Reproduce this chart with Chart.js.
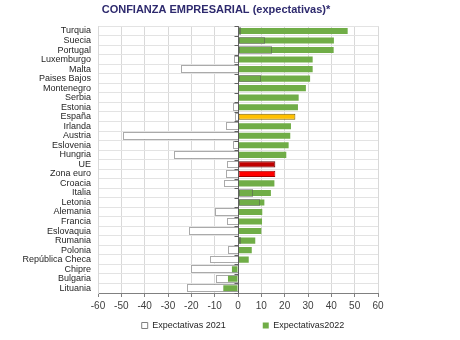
<!DOCTYPE html>
<html>
<head>
<meta charset="utf-8">
<script src="https://cdn.jsdelivr.net/npm/chart.js@4.4.1/dist/chart.umd.min.js"></script>
<style>
html,body{margin:0;padding:0;background:#fff;}
#wrap{width:460px;height:340px;}
</style>
</head>
<body>
<div id="wrap"><canvas id="c" width="460" height="340"></canvas></div>
<script>
const categories = ["Turquia","Suecia","Portugal","Luxemburgo","Malta","Paises Bajos","Montenegro","Serbia","Estonia","España","Irlanda","Austria","Eslovenia","Hungria","UE","Zona euro","Croacia","Italia","Letonia","Alemania","Francia","Eslovaquia","Rumania","Polonia","República Checa","Chipre","Bulgaria","Lituania"];
const expectativas2021 = [0.3, 11.3, 14, -1.7, -24.4, 9.3, 0, 0, -2, -1.3, -5.1, -49.4, -2, -27.4, -4.6, -5, -5.9, 5.9, 8.9, -9.9, -4.6, -20.9, 0.3, -4.1, -12, -20.3, -9.6, -21.7];
const expectativas2022 = [47, 41.1, 41, 32, 32, 30.9, 29.1, 26, 25.7, 24.6, 22.7, 22.4, 21.7, 20.7, 16, 16, 15.6, 14.1, 11.3, 10.4, 10.3, 10, 7.4, 5.9, 4.6, -2.6, -4.3, -6.3];
const xTicks = [-60,-50,-40,-30,-20,-10,0,10,20,30,40,50,60];
const seriesNames = ["Expectativas 2021", "Expectativas2022"];
const titleText = "CONFIANZA EMPRESARIAL (expectativas)*";

const GREEN = '#70AD47';
const highlight = {"España": ['#FFC000', '#7F6000'], "UE": ['#C00000', '#600000'], "Zona euro": ['#FF0000', '#A00000']};
const bg2022 = categories.map(c => highlight[c] ? highlight[c][0] : GREEN);
const bd2022 = categories.map(c => highlight[c] ? highlight[c][1] : GREEN);
const bw2022 = categories.map(c => highlight[c] ? 1 : 0);
const FONT = "'Liberation Sans',Arial,sans-serif";

const TITLE_CENTER = 216;
const LEGEND_CENTER = 243;

const shiftPlugin = {
  id: 'shift',
  afterLayout(chart) {
    const T = chart.titleBlock;
    if (T) {
      const d = TITLE_CENTER - (T.left + T.right) / 2;
      T.left += d; T.right += d;
    }
    const L = chart.legend;
    if (L && L.lineWidths) {
      const pad = L.options.labels.padding;
      const lw = L.lineWidths[0];
      const start = LEGEND_CENTER - (lw - pad) / 2;
      const cur = (L.left + pad + L.right - lw) / 2;
      const d = start - cur;
      L.left += d; L.right += d;
    }
  }
};

const dottedPlugin = {
  id: 'dotted',
  afterDatasetsDraw(chart) {
    const ctx = chart.ctx;
    const meta = chart.getDatasetMeta(0);
    const xs = chart.scales.x, ys = chart.scales.y, area = chart.chartArea;
    ctx.save();
    const x0 = Math.round(xs.getPixelForValue(0)) + 0.5;
    const step = ys.getPixelForTick(1) - ys.getPixelForTick(0);
    ctx.strokeStyle = '#606060';
    ctx.lineWidth = 1;
    ctx.setLineDash([]);
    ctx.beginPath();
    ctx.moveTo(x0, area.top);
    ctx.lineTo(x0, area.bottom);
    for (let i = 0; i <= categories.length; i++) {
      const yb = Math.round(i < categories.length ? ys.getPixelForTick(i) - step / 2 : area.bottom) + 0.5;
      ctx.moveTo(x0 - 4, yb);
      ctx.lineTo(x0, yb);
    }
    ctx.stroke();
    ctx.strokeStyle = '#555555';
    ctx.setLineDash([1, 1]);
    meta.data.forEach((el, i) => {
      if (!expectativas2021[i]) return;
      const p = el.getProps(['x', 'y', 'base', 'height'], true);
      const l = Math.round(Math.min(p.x, p.base)) + 0.5;
      const r = Math.round(Math.max(p.x, p.base)) + 0.5;
      const t = Math.round(p.y - p.height / 2) + 0.5;
      const b = Math.round(p.y + p.height / 2) - 0.5;
      ctx.strokeRect(l, t, Math.max(r - l, 1), b - t);
    });
    ctx.restore();
  }
};

new Chart(document.getElementById('c'), {
  type: 'bar',
  data: {
    labels: categories,
    datasets: [
      {
        label: seriesNames[0],
        data: expectativas2021,
        backgroundColor: '#ffffff',
        borderWidth: 0,
        barPercentage: 0.8,
        categoryPercentage: 1,
        grouped: false,
        order: 2
      },
      {
        label: seriesNames[1],
        data: expectativas2022,
        backgroundColor: bg2022,
        borderColor: bd2022,
        borderWidth: bw2022,
        borderSkipped: false,
        barPercentage: 0.64,
        categoryPercentage: 1,
        grouped: false,
        order: 1
      }
    ]
  },
  options: {
    indexAxis: 'y',
    responsive: false,
    animation: false,
    devicePixelRatio: 1,
    layout: { padding: { left: 0, right: 82, top: 0, bottom: 0 } },
    scales: {
      x: {
        min: -60, max: 60,
        afterBuildTicks: s => { s.ticks = xTicks.map(v => ({ value: v })); },
        ticks: { font: { family: FONT, size: 10 }, color: '#404040', padding: 3, maxRotation: 0 },
        grid: { color: '#d9d9d9', tickColor: '#808080', tickLength: 4, lineWidth: 1 },
        border: { color: '#808080' },
        afterFit: s => { s.height = 18; }
      },
      y: {
        ticks: { font: { family: FONT, size: 9 }, color: '#262626', padding: 7, autoSkip: false },
        grid: { color: '#e3e3e3', drawTicks: false, offset: true },
        border: { color: '#d9d9d9' },
        afterFit: s => { s.width = 98; }
      }
    },
    plugins: {
      title: {
        display: true,
        text: titleText,
        color: '#2E2A6E',
        font: { family: FONT, size: 11, weight: 'bold' },
        padding: { top: 3, bottom: 10 }
      },
      legend: {
        position: 'bottom',
        labels: {
          font: { family: FONT, size: 9 },
          color: '#262626',
          boxWidth: 6, boxHeight: 6,
          padding: 10,
          sort: (a, b) => a.datasetIndex - b.datasetIndex,
          generateLabels: chart => {
            const items = Chart.defaults.plugins.legend.labels.generateLabels(chart);
            items.forEach(it => {
              if (it.datasetIndex === 0) { it.fillStyle = '#ffffff'; it.strokeStyle = '#808080'; it.lineWidth = 1; it.text = it.text + '\u2003\u2003\u2003'; }
              else { it.fillStyle = GREEN; it.strokeStyle = GREEN; it.lineWidth = 0; }
            });
            return items;
          }
        }
      },
      tooltip: { enabled: false }
    }
  },
  plugins: [dottedPlugin, shiftPlugin]
});
</script>
</body>
</html>
